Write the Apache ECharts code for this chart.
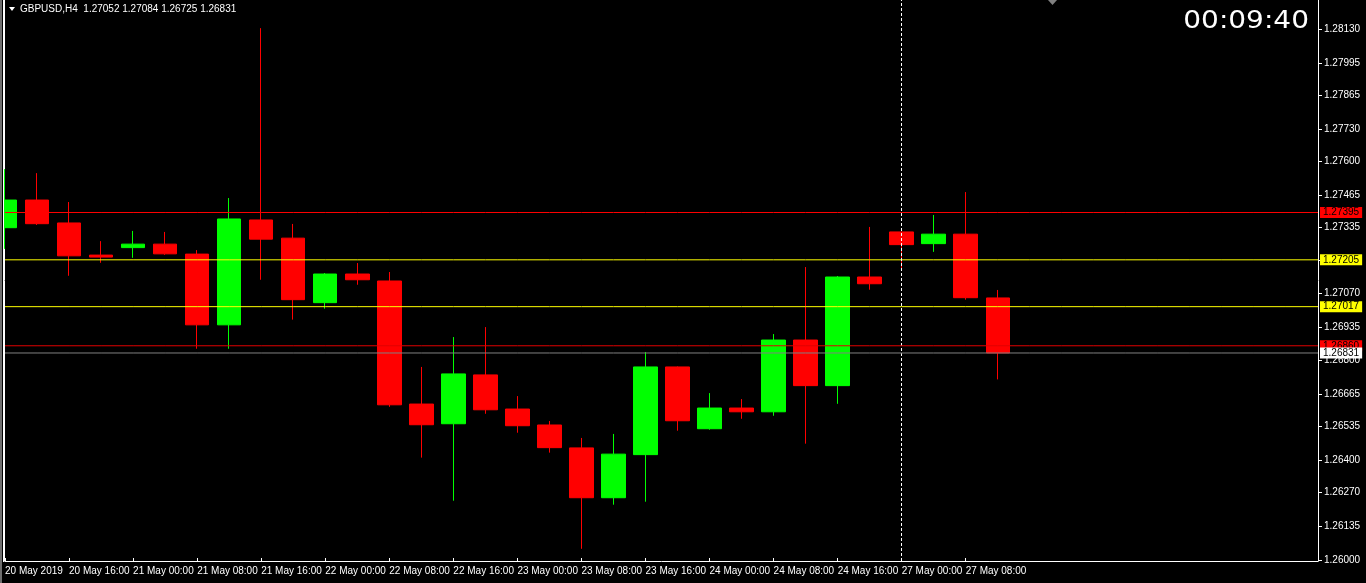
<!DOCTYPE html>
<html>
<head>
<meta charset="utf-8">
<title>GBPUSD,H4</title>
<script src="https://cdn.jsdelivr.net/npm/echarts@6.0.0/dist/echarts.min.js"></script>
<style>
  html, body { margin: 0; padding: 0; background: #000; }
  #chart { width: 1366px; height: 583px; }
</style>
</head>
<body>
<div id="chart"></div>
<script>
// H4 bars, 20 May 08:00 .. 27 May 12:00 (first label shows the date with year, like MT4)
const categories = [
  '20 May 2019', '20 May 12:00', '20 May 16:00', '20 May 20:00',
  '21 May 00:00', '21 May 04:00', '21 May 08:00', '21 May 12:00', '21 May 16:00', '21 May 20:00',
  '22 May 00:00', '22 May 04:00', '22 May 08:00', '22 May 12:00', '22 May 16:00', '22 May 20:00',
  '23 May 00:00', '23 May 04:00', '23 May 08:00', '23 May 12:00', '23 May 16:00', '23 May 20:00',
  '24 May 00:00', '24 May 04:00', '24 May 08:00', '24 May 12:00', '24 May 16:00', '24 May 20:00',
  '27 May 00:00', '27 May 04:00', '27 May 08:00', '27 May 12:00'
]
const open = [1.27334, 1.27445, 1.27353, 1.27224, 1.27254, 1.27268, 1.27228, 1.26944, 1.27365, 1.27292,
  1.27033, 1.27148, 1.27120, 1.26626, 1.26547, 1.26743, 1.26606, 1.26542, 1.26450, 1.26250,
  1.26423, 1.26775, 1.26527, 1.26610, 1.26595, 1.26883, 1.26700, 1.27136, 1.27317, 1.27270,
  1.27308, 1.27052]
const close = [1.27445, 1.27350, 1.27221, 1.27216, 1.27268, 1.27229, 1.26944, 1.27369, 1.27288, 1.27045,
  1.27148, 1.27125, 1.26623, 1.26543, 1.26747, 1.26603, 1.26539, 1.26451, 1.26250, 1.26425,
  1.26775, 1.26559, 1.26610, 1.26595, 1.26883, 1.26700, 1.27136, 1.27109, 1.27266, 1.27308,
  1.27053, 1.26831]
const low = [1.27249, 1.27345, 1.27141, 1.27193, 1.27213, 1.27225, 1.26848, 1.26848, 1.27125, 1.26965,
  1.27009, 1.27105, 1.26615, 1.26411, 1.26238, 1.26587, 1.26511, 1.26431, 1.26045, 1.26222,
  1.26234, 1.26519, 1.26523, 1.26567, 1.26579, 1.26467, 1.26627, 1.27085, 1.27169, 1.27237,
  1.27045, 1.26725]
const high = [1.27569, 1.27553, 1.27437, 1.27280, 1.27321, 1.27317, 1.27244, 1.27453, 1.28135, 1.27349,
  1.27152, 1.27192, 1.27156, 1.26775, 1.26895, 1.26935, 1.26658, 1.26558, 1.26490, 1.26506,
  1.26835, 1.26777, 1.26670, 1.26646, 1.26907, 1.27176, 1.27140, 1.27337, 1.27318, 1.27385,
  1.27477, 1.27084]
const yTicks = [1.28130, 1.27995, 1.27865, 1.27730, 1.27600, 1.27465, 1.27335, 1.27205, 1.27070,
  1.26935, 1.26800, 1.26665, 1.26535, 1.26400, 1.26270, 1.26135, 1.26000]
// horizontal levels drawn on the chart (last one is the bid line)
const levels = [1.27395, 1.27205, 1.27017, 1.26860, 1.26831]
const sessionBar = 28
const headerText = 'GBPUSD,H4  1.27052 1.27084 1.26725 1.26831'
const timerText = '00:09:40'

const levelStyle = [
  { line: '#ff0000', box: '#ff0000' },
  { line: '#ffff00', box: '#ffff00' },
  { line: '#ffff00', box: '#ffff00' },
  { line: '#e00000', box: '#ff0000' },
  { line: '#808080', box: '#ffffff' }
]

// empty slots on the right side of the chart (chart shift area)
const xData = categories.concat(new Array(10).fill(''))
const candles = open.map((o, i) => [o, close[i], low[i], high[i]])
const showEven = (i, v) => i % 2 === 0 && v !== ''

// one flat line series per level, spanning the whole category axis
const levelSeries = levels.map((v, i) => ({
  type: 'line',
  data: xData.map(() => v),
  silent: true,
  showSymbol: false,
  z: 3 + i,
  lineStyle: { color: levelStyle[i].line, width: 1 },
  endLabel: {
    show: true,
    distance: 2,
    formatter: () => v.toFixed(5),
    color: '#000000',
    fontSize: 10,
    backgroundColor: levelStyle[i].box,
    padding: [1, 3, 0, 3]
  }
}))

const chart = echarts.init(document.getElementById('chart'))
chart.setOption({
  backgroundColor: '#000000',
  animation: false,
  textStyle: { fontFamily: 'Liberation Sans, Arial, sans-serif' },
  grid: { left: 5, right: 48, top: 0, bottom: 22 },
  xAxis: {
    type: 'category',
    data: xData,
    boundaryGap: false,
    axisLine: { lineStyle: { color: '#ffffff', width: 1 } },
    axisTick: { inside: true, length: 3, interval: showEven, lineStyle: { color: '#ffffff' } },
    axisLabel: {
      interval: showEven,
      align: 'left',
      margin: 5,
      color: '#ffffff',
      fontSize: 10
    },
    splitLine: { show: false }
  },
  yAxis: [{
    type: 'value',
    position: 'right',
    min: 1.25996,
    max: 1.28248,
    axisLine: { show: true, lineStyle: { color: '#ffffff' } },
    axisTick: { show: true, length: 4, customValues: yTicks, lineStyle: { color: '#ffffff' } },
    axisLabel: {
      customValues: yTicks,
      margin: 6,
      color: '#ffffff',
      fontSize: 10,
      formatter: v => v.toFixed(5)
    },
    splitLine: { show: false }
  }, {
    type: 'value',
    position: 'left',
    offset: 1,
    min: 1.25996,
    max: 1.28248,
    axisLine: { show: true, lineStyle: { color: '#ffffff' } },
    axisTick: { show: false },
    axisLabel: { show: false },
    splitLine: { show: false }
  }],
  series: [{
    type: 'candlestick',
    data: candles,
    barWidth: 24,
    clip: true,
    itemStyle: {
      color: '#00ff00',
      borderColor: '#00ff00',
      color0: '#ff0000',
      borderColor0: '#ff0000',
      borderWidth: 1
    },
    markLine: {
      silent: true,
      symbol: ['none', 'none'],
      animation: false,
      label: { show: false },
      lineStyle: { color: '#ffffff', width: 1, type: [3, 2] },
      data: [{ xAxis: sessionBar }]
    }
  }].concat(levelSeries),
  graphic: [
    // window frame on the left edge, covers the part of the first bar outside the plot
    { type: 'rect', z: 50, shape: { x: 0, y: 0, width: 4, height: 583 }, style: { fill: '#000000' } },
    { type: 'rect', z: 51, shape: { x: 0, y: 0, width: 2, height: 583 }, style: { fill: '#6e6e6e' } },
    { type: 'rect', z: 51, shape: { x: 3, y: 0, width: 1, height: 562 }, style: { fill: '#ffffff' } },
    {
      type: 'polygon',
      shape: { points: [[9, 7], [15, 7], [12, 11]] },
      style: { fill: '#ffffff' }
    },
    {
      type: 'text', x: 20, y: 9,
      style: {
        text: headerText, fill: '#ffffff', font: '10px "Liberation Sans", Arial, sans-serif',
        align: 'left', verticalAlign: 'middle', textAlign: 'left', textVerticalAlign: 'middle'
      }
    },
    {
      type: 'text', x: 1309, y: 21, scaleX: 1.12,
      style: {
        text: timerText, fill: '#ffffff', font: '25px "DejaVu Sans", sans-serif',
        align: 'right', verticalAlign: 'middle', textAlign: 'right', textVerticalAlign: 'middle'
      }
    },
    {
      type: 'polygon',
      shape: { points: [[1048, 0], [1057, 0], [1052.5, 5]] },
      style: { fill: '#808080' }
    }
  ]
})
window.addEventListener('resize', () => chart.resize())
</script>
</body>
</html>
